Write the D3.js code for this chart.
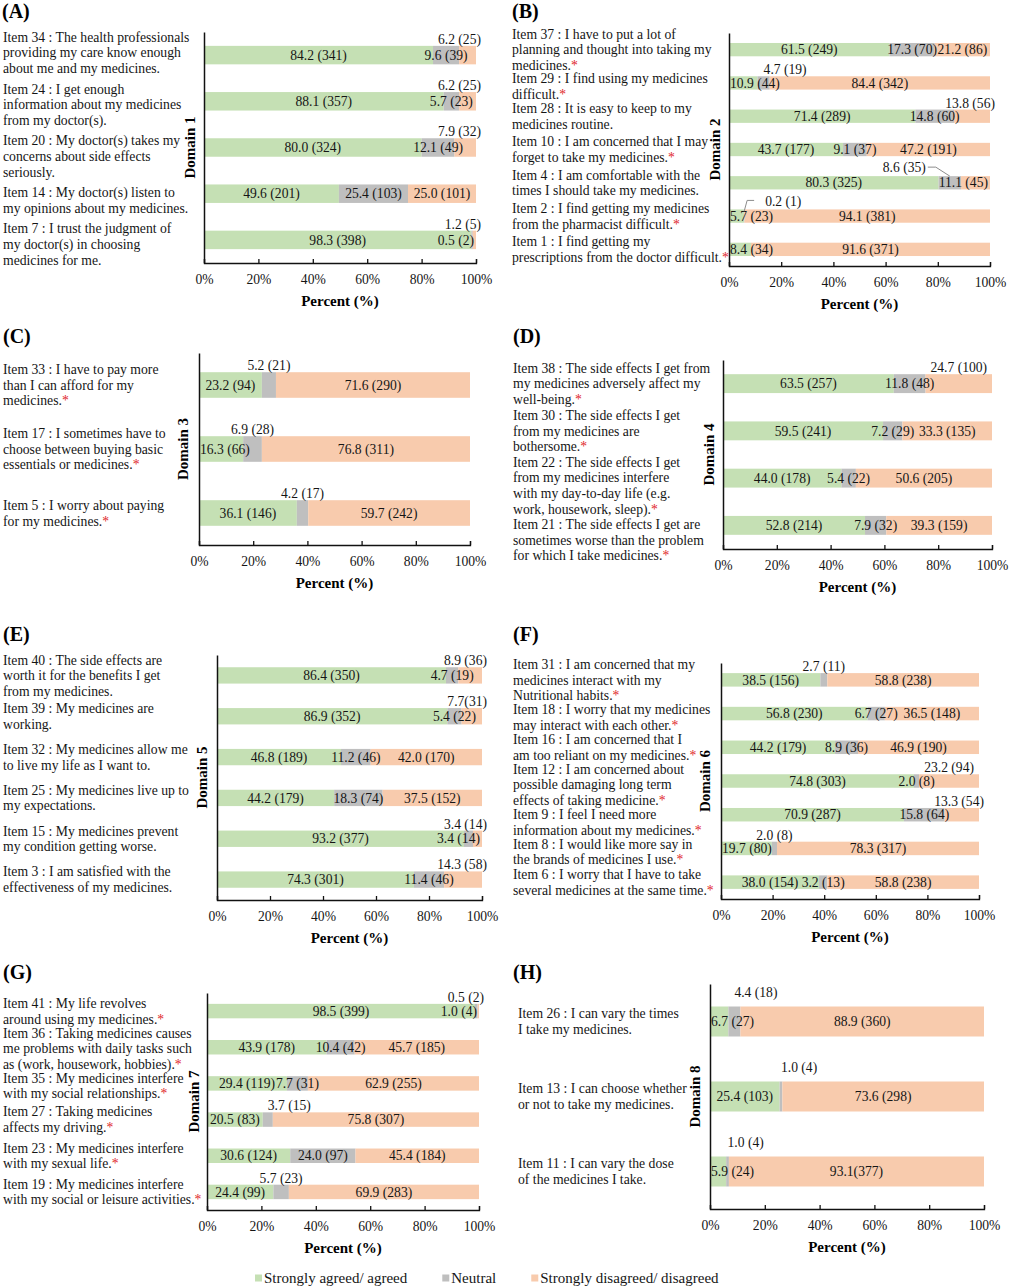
<!DOCTYPE html>
<html lang="en">
<head>
<meta charset="UTF-8">
<title>Medicine beliefs by domain</title>
<script src="https://d3js.org/d3.v7.min.js"></script>
<style>
  body { margin: 0; background: #fff; }
  svg { display: block; font-family: "Liberation Serif", "Times New Roman", serif; }
</style>
</head>
<body>
<svg width="1010" height="1288"></svg>
<script>
const seriesKeys = ["agree", "neutral", "disagree"];
const legendLabels = ["Strongly agreed/ agreed", "Neutral", "Strongly disagreed/ disagreed"];
const colors = ["#C5E0B4", "#BFBFBF", "#F8CBAD"];
const tickValues = [0, 20, 40, 60, 80, 100];

// (A) Domain 1
const itemsA = [
  ["Item 34 : The health professionals", "providing my care know enough", "about me and my medicines."],
  ["Item 24 : I get enough", "information about my medicines", "from my doctor(s)."],
  ["Item 20 : My doctor(s) takes my", "concerns about side effects", "seriously."],
  ["Item 14 : My doctor(s) listen to", "my opinions about my medicines."],
  ["Item 7 : I trust the judgment of", "my doctor(s) in choosing", "medicines for me."]
];
const agreeA = [84.2, 88.1, 80.0, 49.6, 98.3];
const agreeNA = [341, 357, 324, 201, 398];
const neutralA = [9.6, 5.7, 12.1, 25.4, 0.5];
const neutralNA = [39, 23, 49, 103, 2];
const disagreeA = [6.2, 6.2, 7.9, 25.0, 1.2];
const disagreeNA = [25, 25, 32, 101, 5];

// (B) Domain 2
const itemsB = [
  ["Item 37 : I have to put a lot of", "planning and thought into taking my", "medicines.*"],
  ["Item 29 : I find using my medicines", "difficult.*"],
  ["Item 28 : It is easy to keep to my", "medicines routine."],
  ["Item 10 : I am concerned that I may", "forget to take my medicines.*"],
  ["Item 4 : I am comfortable with the", "times I should take my medicines."],
  ["Item 2 : I find getting my medicines", "from the pharmacist difficult.*"],
  ["Item 1 : I find getting my", "prescriptions from the doctor difficult.*"]
];
const agreeB = [61.5, 10.9, 71.4, 43.7, 80.3, 5.7, 8.4];
const agreeNB = [249, 44, 289, 177, 325, 23, 34];
const neutralB = [17.3, 4.7, 14.8, 9.1, 8.6, 0.2, 0];
const neutralNB = [70, 19, 60, 37, 35, 1, 0];
const disagreeB = [21.2, 84.4, 13.8, 47.2, 11.1, 94.1, 91.6];
const disagreeNB = [86, 342, 56, 191, 45, 381, 371];

// (C) Domain 3
const itemsC = [
  ["Item 33 : I have to pay more", "than I can afford for my", "medicines.*"],
  ["Item 17 : I sometimes have to", "choose between buying basic", "essentials or medicines.*"],
  ["Item 5 : I worry about paying", "for my medicines.*"]
];
const agreeC = [23.2, 16.3, 36.1];
const agreeNC = [94, 66, 146];
const neutralC = [5.2, 6.9, 4.2];
const neutralNC = [21, 28, 17];
const disagreeC = [71.6, 76.8, 59.7];
const disagreeNC = [290, 311, 242];

// (D) Domain 4
const itemsD = [
  ["Item 38 : The side effects I get from", "my medicines adversely affect my", "well-being.*"],
  ["Item 30 : The side effects I get", "from my medicines are", "bothersome.*"],
  ["Item 22 : The side effects I get", "from my medicines interfere", "with my day-to-day life (e.g.", "work, housework, sleep).*"],
  ["Item 21 : The side effects I get are", "sometimes worse than the problem", "for which I take medicines.*"]
];
const agreeD = [63.5, 59.5, 44.0, 52.8];
const agreeND = [257, 241, 178, 214];
const neutralD = [11.8, 7.2, 5.4, 7.9];
const neutralND = [48, 29, 22, 32];
const disagreeD = [24.7, 33.3, 50.6, 39.3];
const disagreeND = [100, 135, 205, 159];

// (E) Domain 5
const itemsE = [
  ["Item 40 : The side effects are", "worth it for the benefits I get", "from my medicines."],
  ["Item 39 : My medicines are", "working."],
  ["Item 32 : My medicines allow me", "to live my life as I want to."],
  ["Item 25 : My medicines live up to", "my expectations."],
  ["Item 15 : My medicines prevent", "my condition getting worse."],
  ["Item 3 : I am satisfied with the", "effectiveness of my medicines."]
];
const agreeE = [86.4, 86.9, 46.8, 44.2, 93.2, 74.3];
const agreeNE = [350, 352, 189, 179, 377, 301];
const neutralE = [4.7, 5.4, 11.2, 18.3, 3.4, 11.4];
const neutralNE = [19, 22, 46, 74, 14, 46];
const disagreeE = [8.9, 7.7, 42.0, 37.5, 3.4, 14.3];
const disagreeNE = [36, 31, 170, 152, 14, 58];

// (F) Domain 6
const itemsF = [
  ["Item 31 : I am concerned that my", "medicines interact with my", "Nutritional habits.*"],
  ["Item 18 : I worry that my medicines", "may interact with each other.*"],
  ["Item 16 : I am concerned that I", "am too reliant on my medicines.*"],
  ["Item 12 : I am concerned about", "possible damaging long term", "effects of taking medicine.*"],
  ["Item 9 : I feel I need more", "information about my medicines.*"],
  ["Item 8 : I would like more say in", "the brands of medicines I use.*"],
  ["Item 6 : I worry that I have to take", "several medicines at the same time.*"]
];
const agreeF = [38.5, 56.8, 44.2, 74.8, 70.9, 19.7, 38.0];
const agreeNF = [156, 230, 179, 303, 287, 80, 154];
const neutralF = [2.7, 6.7, 8.9, 2.0, 15.8, 2.0, 3.2];
const neutralNF = [11, 27, 36, 8, 64, 8, 13];
const disagreeF = [58.8, 36.5, 46.9, 23.2, 13.3, 78.3, 58.8];
const disagreeNF = [238, 148, 190, 94, 54, 317, 238];

// (G) Domain 7
const itemsG = [
  ["Item 41 : My life revolves", "around using my medicines.*"],
  ["Item 36 : Taking medicines causes", "me problems with daily tasks such", "as (work, housework, hobbies).*"],
  ["Item 35 : My medicines interfere", "with my social relationships.*"],
  ["Item 27 : Taking medicines", "affects my driving.*"],
  ["Item 23 : My medicines interfere", "with my sexual life.*"],
  ["Item 19 : My medicines interfere", "with my social or leisure activities.*"]
];
const agreeG = [98.5, 43.9, 29.4, 20.5, 30.6, 24.4];
const agreeNG = [399, 178, 119, 83, 124, 99];
const neutralG = [1.0, 10.4, 7.7, 3.7, 24.0, 5.7];
const neutralNG = [4, 42, 31, 15, 97, 23];
const disagreeG = [0.5, 45.7, 62.9, 75.8, 45.4, 69.9];
const disagreeNG = [2, 185, 255, 307, 184, 283];

// (H) Domain 8
const itemsH = [
  ["Item 26 : I can vary the times", "I take my medicines."],
  ["Item 13 : I can choose whether", "or not to take my medicines."],
  ["Item 11 : I can vary the dose", "of the medicines I take."]
];
const agreeH = [6.7, 25.4, 5.9];
const agreeNH = [27, 103, 24];
const neutralH = [4.4, 1.0, 1.0];
const neutralNH = [18, 4, 4];
const disagreeH = [88.9, 73.6, 93.1];
const disagreeNH = [360, 298, 377];

// layout: plot frames and where each value label sits
// c = inside, a = above, as = above starting at segment, ln/rn = with leader line, ! = no space, - = none
const panels = [
  { letter: "(A)", domain: "Domain 1", items: itemsA,
    pct: [agreeA, neutralA, disagreeA], n: [agreeNA, neutralNA, disagreeNA],
    frame: { x0: 204, x1: 476, y0: 32, y1: 263 }, letterAt: [2, 17.5], textX: 3, domainX: 190,
    textMode: { type: "stack", first: 37, gap: 5 },
    place: [["c","c","a"],["c","c","a"],["c","c","a"],["c","c","c"],["c","c","a"]] },
  { letter: "(B)", domain: "Domain 2", items: itemsB,
    pct: [agreeB, neutralB, disagreeB], n: [agreeNB, neutralNB, disagreeNB],
    frame: { x0: 729, x1: 990, y0: 33, y1: 266 }, letterAt: [512, 17.5], textX: 512, domainX: 715,
    textMode: { type: "center", minGap: 13 },
    place: [["c","c","c"],["c","as","c"],["c","c","a"],["c","c","c"],["c","ln","c"],["c","rn","c"],["c","-","c"]] },
  { letter: "(C)", domain: "Domain 3", items: itemsC,
    pct: [agreeC, neutralC, disagreeC], n: [agreeNC, neutralNC, disagreeNC],
    frame: { x0: 199, x1: 470, y0: 353, y1: 545 }, letterAt: [3, 343], textX: 3, domainX: 183,
    textMode: { type: "center", minGap: 14 },
    place: [["c","a","c"],["c","a","c"],["c","a","c"]] },
  { letter: "(D)", domain: "Domain 4", items: itemsD,
    pct: [agreeD, neutralD, disagreeD], n: [agreeND, neutralND, disagreeND],
    frame: { x0: 723, x1: 992, y0: 360, y1: 549 }, letterAt: [513, 343], textX: 513, domainX: 709,
    textMode: { type: "center", minGap: 15.6 },
    place: [["c","c","a"],["c","c","c"],["c","c","c"],["c","c","c"]] },
  { letter: "(E)", domain: "Domain 5", items: itemsE,
    pct: [agreeE, neutralE, disagreeE], n: [agreeNE, neutralNE, disagreeNE],
    frame: { x0: 217, x1: 482, y0: 655, y1: 900 }, letterAt: [3, 641], textX: 3, domainX: 202,
    textMode: { type: "center", minGap: 14 },
    place: [["c","c","a"],["c","c","a!"],["c","c","c"],["c","c","c"],["c","c","a"],["c","c","a"]] },
  { letter: "(F)", domain: "Domain 6", items: itemsF,
    pct: [agreeF, neutralF, disagreeF], n: [agreeNF, neutralNF, disagreeNF],
    frame: { x0: 721, x1: 979, y0: 663, y1: 899 }, letterAt: [513, 641], textX: 513, domainX: 705,
    textMode: { type: "center", minGap: 14 },
    place: [["c","a","c"],["c","c","c"],["c","c","c"],["c","c","a"],["c","c","a"],["c","a","c"],["c","c","c"]] },
  { letter: "(G)", domain: "Domain 7", items: itemsG,
    pct: [agreeG, neutralG, disagreeG], n: [agreeNG, neutralNG, disagreeNG],
    frame: { x0: 207, x1: 479, y0: 993, y1: 1210 }, letterAt: [3, 979], textX: 3, domainX: 194,
    textMode: { type: "center", minGap: 14 },
    place: [["c","c","a"],["c","c","c"],["c","c","c"],["c","as","c"],["c","c","c"],["c","a","c"]] },
  { letter: "(H)", domain: "Domain 8", items: itemsH,
    pct: [agreeH, neutralH, disagreeH], n: [agreeNH, neutralNH, disagreeNH],
    frame: { x0: 710, x1: 984, y0: 984, y1: 1209 }, letterAt: [513, 979], textX: 518, domainX: 695,
    textMode: { type: "center", minGap: 14 }, aboveGap: 9.5,
    place: [["c","as","c"],["c","as","c"],["c","as","c!"]] }
];

const svg = d3.select("svg");
svg.append("rect").attr("width", 1010).attr("height", 1288).attr("fill", "#fff");

const lineH = 15.6;
const textColor = "#151515";

function addLine(g, str, x, y, size) {
  const t = g.append("text").attr("x", x).attr("y", y)
    .attr("font-size", size).attr("fill", textColor);
  if (str.endsWith("*")) {
    t.append("tspan").text(str.slice(0, -1));
    t.append("tspan").attr("fill", "#e0262a").text("*");
  } else {
    t.text(str);
  }
  return t;
}

function drawPanel(p) {
  const g = svg.append("g");
  const f = p.frame;
  const x = d3.scaleLinear().domain([0, 100]).range([f.x0, f.x1]);
  const y = d3.scaleBand().domain(d3.range(p.items.length))
    .range([f.y0, f.y1]).paddingInner(0.6).paddingOuter(0.3);
  const bw = y.bandwidth();
  const aboveGap = p.aboveGap || 2;

  const rows = p.items.map((_, i) => ({
    i: i, agree: p.pct[0][i], neutral: p.pct[1][i], disagree: p.pct[2][i]
  }));
  const stacked = d3.stack().keys(seriesKeys)(rows);

  // stacked bars
  g.append("g").selectAll("g").data(stacked).join("g")
    .attr("fill", (d, k) => colors[k])
    .selectAll("rect").data(d => d).join("rect")
    .attr("x", d => x(d[0]))
    .attr("y", d => y(d.data.i))
    .attr("width", d => Math.max(0, x(d[1]) - x(d[0])))
    .attr("height", bw);

  // axes
  const xAxis = g.append("g").attr("transform", `translate(0,${f.y1})`)
    .call(d3.axisBottom(x).tickValues(tickValues).tickFormat(d => d + "%")
      .tickSize(-4).tickPadding(11.5));
  xAxis.selectAll("path, line").attr("stroke", "#111").attr("stroke-width", 1.3);
  xAxis.selectAll("text").attr("font-size", 13.6).attr("fill", textColor)
    .attr("font-family", "Liberation Serif, serif");

  const yAxis = g.append("g").attr("transform", `translate(${f.x0},0)`)
    .call(d3.axisLeft(y).tickValues([]).tickSizeOuter(0));
  yAxis.select("path").attr("stroke", "#111").attr("stroke-width", 1.5);

  // value labels
  stacked.forEach((layer, k) => {
    layer.forEach(d => {
      const i = d.data.i;
      let code = p.place[i][k];
      if (code === "-") return;
      const tight = code.endsWith("!");
      code = code.replace("!", "");
      const label = p.pct[k][i].toFixed(1) + (tight ? "" : " ") + "(" + p.n[k][i] + ")";
      const cx = (x(d[0]) + x(d[1])) / 2;
      const top = y(i);
      const t = g.append("text").attr("font-size", 13.6).attr("fill", textColor).text(label);
      const w = t.node().getComputedTextLength();
      let left, base;
      if (code === "c") {
        left = cx - w / 2;
        left = Math.min(Math.max(left, f.x0 + 1), f.x1 - 2 - w);
        base = top + bw / 2 + 4.7;
      } else if (code === "a") {
        left = Math.min(cx - w / 2, f.x1 + 5 - w);
        base = top - aboveGap;
      } else if (code === "as") {
        left = cx;
        base = top - aboveGap;
      } else if (code === "ln") {
        left = cx - 24 - w;
        base = top - 4;
        g.append("path").attr("fill", "none").attr("stroke", "#8c8c8c").attr("stroke-width", 1)
          .attr("d", `M${cx - 22},${top - 9}H${cx - 14}L${cx},${top}`);
      } else if (code === "rn") {
        left = cx + 21;
        base = top - 3;
        g.append("path").attr("fill", "none").attr("stroke", "#8c8c8c").attr("stroke-width", 1)
          .attr("d", `M${cx + 10},${top - 9}H${cx + 3}L${cx},${top + 2}`);
      }
      t.attr("x", left).attr("y", base);
    });
  });

  // item labels
  let prevLast = null;
  p.items.forEach((lines, i) => {
    let first;
    if (p.textMode.type === "stack") {
      first = prevLast === null ? p.textMode.first : prevLast + lineH + p.textMode.gap;
    } else {
      const c = y(i) + bw / 2;
      first = c - (lines.length - 1) * lineH / 2;
      if (prevLast !== null && first < prevLast + p.textMode.minGap) first = prevLast + p.textMode.minGap;
    }
    lines.forEach((str, j) => addLine(g, str, p.textX, first + j * lineH + 4.7, 13.7));
    prevLast = first + (lines.length - 1) * lineH;
  });

  // panel letter, domain title, axis title
  g.append("text").attr("x", p.letterAt[0]).attr("y", p.letterAt[1])
    .attr("font-size", 20).attr("font-weight", "bold").attr("fill", "#000").text(p.letter);

  g.append("text")
    .attr("transform", `translate(${p.domainX},${(f.y0 + f.y1) / 2}) rotate(-90)`)
    .attr("text-anchor", "middle").attr("dy", "0.35em")
    .attr("font-size", 15).attr("font-weight", "bold").attr("fill", "#000").text(p.domain);

  g.append("text").attr("x", (f.x0 + f.x1) / 2).attr("y", f.y1 + 43)
    .attr("text-anchor", "middle").attr("font-size", 15).attr("font-weight", "bold")
    .attr("fill", "#000").text("Percent (%)");
}

panels.forEach(drawPanel);

// legend
const legend = svg.append("g");
let lx = 255;
legendLabels.forEach((name, k) => {
  legend.append("rect").attr("x", lx).attr("y", 1274.5).attr("width", 7).attr("height", 7)
    .attr("fill", colors[k]);
  const t = legend.append("text").attr("x", lx + 9).attr("y", 1282.5)
    .attr("font-size", 15).attr("fill", textColor).text(name);
  lx += 9 + t.node().getComputedTextLength() + 35;
});
</script>
</body>
</html>
